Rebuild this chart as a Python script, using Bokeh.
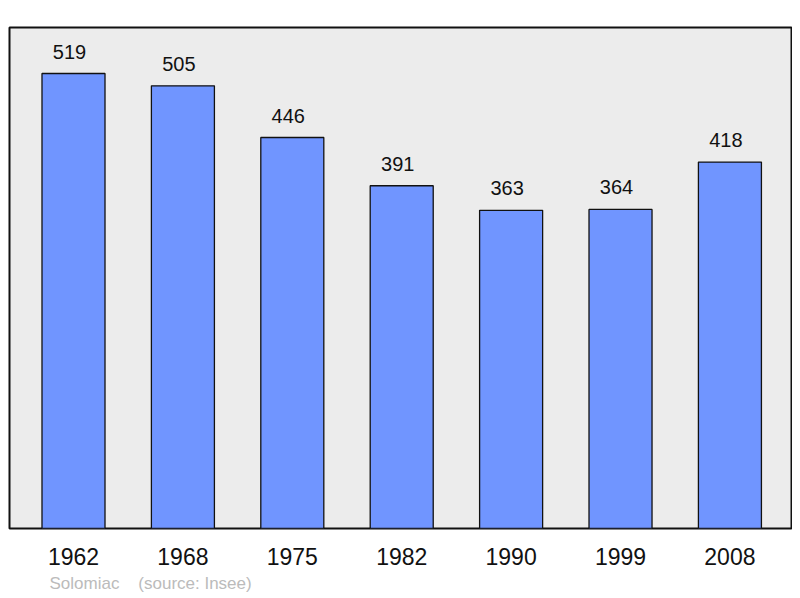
from bokeh.plotting import figure
from bokeh.models import ColumnDataSource, Range1d, FixedTicker, Title
from bokeh.embed import file_html
from bokeh.resources import INLINE
from bokeh.core.properties import value

years = ["1962", "1968", "1975", "1982", "1990", "1999", "2008"]
population = [519, 505, 446, 391, 363, 364, 418]
idx = list(range(len(years)))

src = ColumnDataSource(dict(x=idx, top=population, lab=[str(v) for v in population]))

p = figure(width=792, height=597, output_backend="svg", toolbar_location=None,
           x_range=Range1d(-0.585, 6.572), y_range=Range1d(0, 571.5),
           min_border_left=9, min_border_right=0, min_border_top=27, min_border_bottom=69)
p.background_fill_color = "#ececec"
p.border_fill_color = "white"
p.outline_line_color = "#111111"
p.outline_line_width = 2
p.grid.visible = False
p.yaxis.visible = False

p.vbar(x="x", top="top", width=0.576, bottom=0, source=src,
       fill_color="#7095ff", line_color="#111111", line_width=1.3)
p.text(x="x", y="top", text="lab", source=src, text_align="center", text_baseline="middle",
       x_offset=-4, y_offset=-22, text_font=value("Liberation Sans"), text_font_size="20px",
       text_color="#111111")

ax = p.xaxis[0]
ax.ticker = FixedTicker(ticks=idx)
ax.major_label_overrides = {i: y for i, y in zip(idx, years)}
ax.axis_line_color = None
ax.major_tick_line_color = None
ax.minor_tick_line_color = None
ax.major_tick_out = 0
ax.major_tick_in = 0
ax.major_label_standoff = 19
ax.major_label_text_font = "Liberation Sans"
ax.major_label_text_font_size = "23px"
ax.major_label_text_color = "#111111"

t = Title(text="Solomiac\u00a0\u00a0\u00a0\u00a0(source: Insee)", align="left", offset=40,
          text_font="Liberation Sans", text_font_size="17px", text_font_style="normal",
          text_color="#bbbbbb", standoff=9)
p.add_layout(t, "below")

open("out.html", "w").write(file_html(p, INLINE))
